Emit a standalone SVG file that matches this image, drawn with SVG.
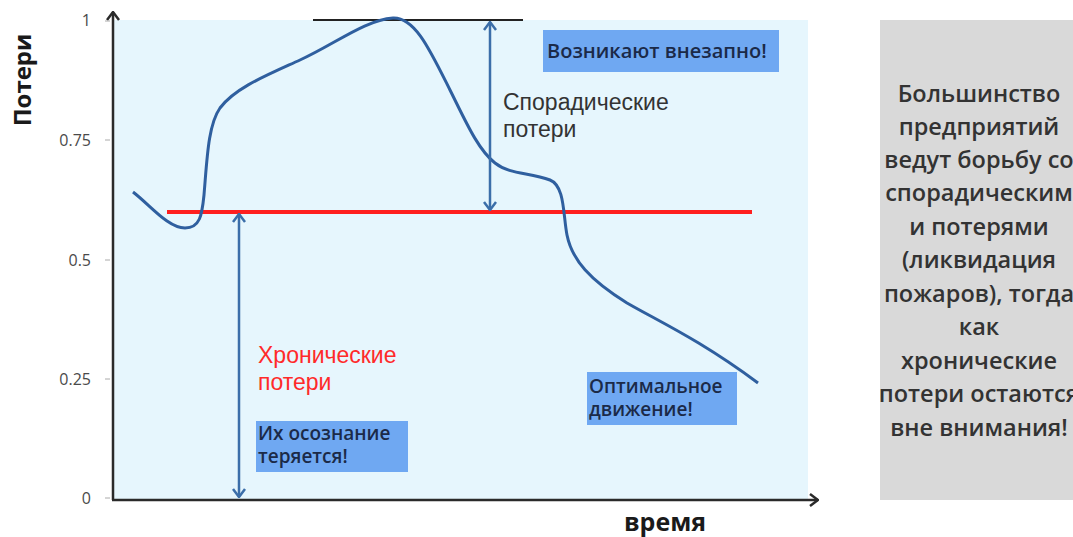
<svg xmlns="http://www.w3.org/2000/svg" width="1073" height="537" viewBox="0 0 1073 537">
<style>
.tick{font-family:"Open Sans","Liberation Sans",sans-serif;font-size:16px;fill:#4a4a4a;text-anchor:end}
.axlab{font-family:"Open Sans","Liberation Sans",sans-serif;font-weight:700;fill:#1a1a1a}
.box{fill:#6fa8f2}
.boxtxt{font-family:"Open Sans","Liberation Sans",sans-serif;font-weight:600;fill:#1b2a48}
.lbl{font-family:"Liberation Sans",Arial,sans-serif;font-size:23px}
.note{font-family:"Open Sans","Liberation Sans",sans-serif;font-size:23.5px;font-weight:600;fill:#333;text-anchor:middle}
.arr{stroke:#3b6ea9;stroke-width:2.5;fill:none}
</style>
<defs>
<marker id="chev" viewBox="0 0 10 14" refX="9" refY="7" markerWidth="10" markerHeight="14" markerUnits="userSpaceOnUse" orient="auto-start-reverse">
<path d="M1,1 L9,7 L1,13" fill="none" stroke="#3b6ea9" stroke-width="2.5"/>
</marker>
<marker id="axchev" viewBox="0 0 10 14" refX="9" refY="7" markerWidth="10" markerHeight="14" markerUnits="userSpaceOnUse" orient="auto">
<path d="M1,1 L9,7 L1,13" fill="none" stroke="#2a2a2a" stroke-width="2.5"/>
</marker>
</defs>
<rect width="1073" height="537" fill="#ffffff"/>
<g id="plot-area">
<rect x="113" y="20" width="695" height="479" fill="#e6f6fd"/>
</g>
<g id="axes">
<line x1="113" y1="500" x2="113" y2="12" stroke="#2a2a2a" stroke-width="2.5" marker-end="url(#axchev)"/>
<line x1="112" y1="500" x2="818" y2="500" stroke="#2a2a2a" stroke-width="2.5" marker-end="url(#axchev)"/>
<g stroke="#aaa" stroke-width="1">
<line x1="105" y1="21" x2="110" y2="21"/>
<line x1="105" y1="140" x2="110" y2="140"/>
<line x1="105" y1="260" x2="110" y2="260"/>
<line x1="105" y1="379" x2="110" y2="379"/>
<line x1="105" y1="498" x2="110" y2="498"/>
</g>
<text class="tick" x="91" y="26">1</text>
<text class="tick" x="91" y="146">0.75</text>
<text class="tick" x="91" y="266">0.5</text>
<text class="tick" x="91" y="385">0.25</text>
<text class="tick" x="91" y="504">0</text>
<text class="axlab" font-size="24" transform="translate(31,80) rotate(-90)" text-anchor="middle">Потери</text>
<text class="axlab" font-size="25" x="665" y="531" text-anchor="middle">время</text>
</g>
<g id="top-line"><line x1="313" y1="20" x2="523" y2="20" stroke="#222" stroke-width="2"/></g>
<g id="chronic-level"><line x1="167" y1="212" x2="752" y2="212" stroke="#ff1f1f" stroke-width="4"/></g>
<g id="loss-curve">
<path d="M133,192 C150,205 168,228 185,228 C200,228 202,215 204,195 C207,160 208,125 220,108 C235,88 265,76 300,60 C335,44 365,20 393,18 C415,17 430,50 450,90 C465,120 478,150 495,163 C510,175 530,172 550,180 C565,186 563,215 567,235 C572,260 590,280 627,303 C660,322 700,340 758,383" fill="none" stroke="#2f5f9f" stroke-width="3"/>
</g>
<g id="connectors">
<line class="arr" x1="490" y1="22" x2="490" y2="210" marker-start="url(#chev)" marker-end="url(#chev)"/>
<line class="arr" x1="239" y1="214" x2="239" y2="497" marker-start="url(#chev)" marker-end="url(#chev)"/>
</g>
<g id="sporadic-label">
<text class="lbl" fill="#333" x="503" y="110">Спорадические</text>
<text class="lbl" fill="#333" x="503" y="137">потери</text>
</g>
<g id="chronic-label">
<text class="lbl" fill="#ff2a2a" x="258" y="363">Хронические</text>
<text class="lbl" fill="#ff2a2a" x="258" y="390">потери</text>
</g>
<g id="sudden-box">
<rect class="box" x="543" y="30" width="236" height="42"/>
<text class="boxtxt" font-size="20" x="547" y="58">Возникают внезапно!</text>
</g>
<g id="awareness-box">
<rect class="box" x="256" y="421" width="152" height="51"/>
<text class="boxtxt" font-size="19" x="258" y="440">Их осознание</text>
<text class="boxtxt" font-size="19" x="258" y="463">теряется!</text>
</g>
<g id="optimal-box">
<rect class="box" x="587" y="372" width="150" height="53"/>
<text class="boxtxt" font-size="19" x="589" y="393">Оптимальное</text>
<text class="boxtxt" font-size="19" x="589" y="416">движение!</text>
</g>
<g id="note-box">
<rect x="880" y="20" width="200" height="480" fill="#d9d9d9"/>
<text class="note" x="979" y="102">Большинство</text>
<text class="note" x="979" y="135">предприятий</text>
<text class="note" x="979" y="168">ведут борьбу со</text>
<text class="note" x="979" y="201">спорадическим</text>
<text class="note" x="979" y="235">и потерями</text>
<text class="note" x="979" y="268">(ликвидация</text>
<text class="note" x="979" y="302">пожаров), тогда</text>
<text class="note" x="979" y="335">как</text>
<text class="note" x="979" y="369">хронические</text>
<text class="note" x="979" y="402">потери остаются</text>
<text class="note" x="979" y="436">вне внимания!</text>
</g>
</svg>
